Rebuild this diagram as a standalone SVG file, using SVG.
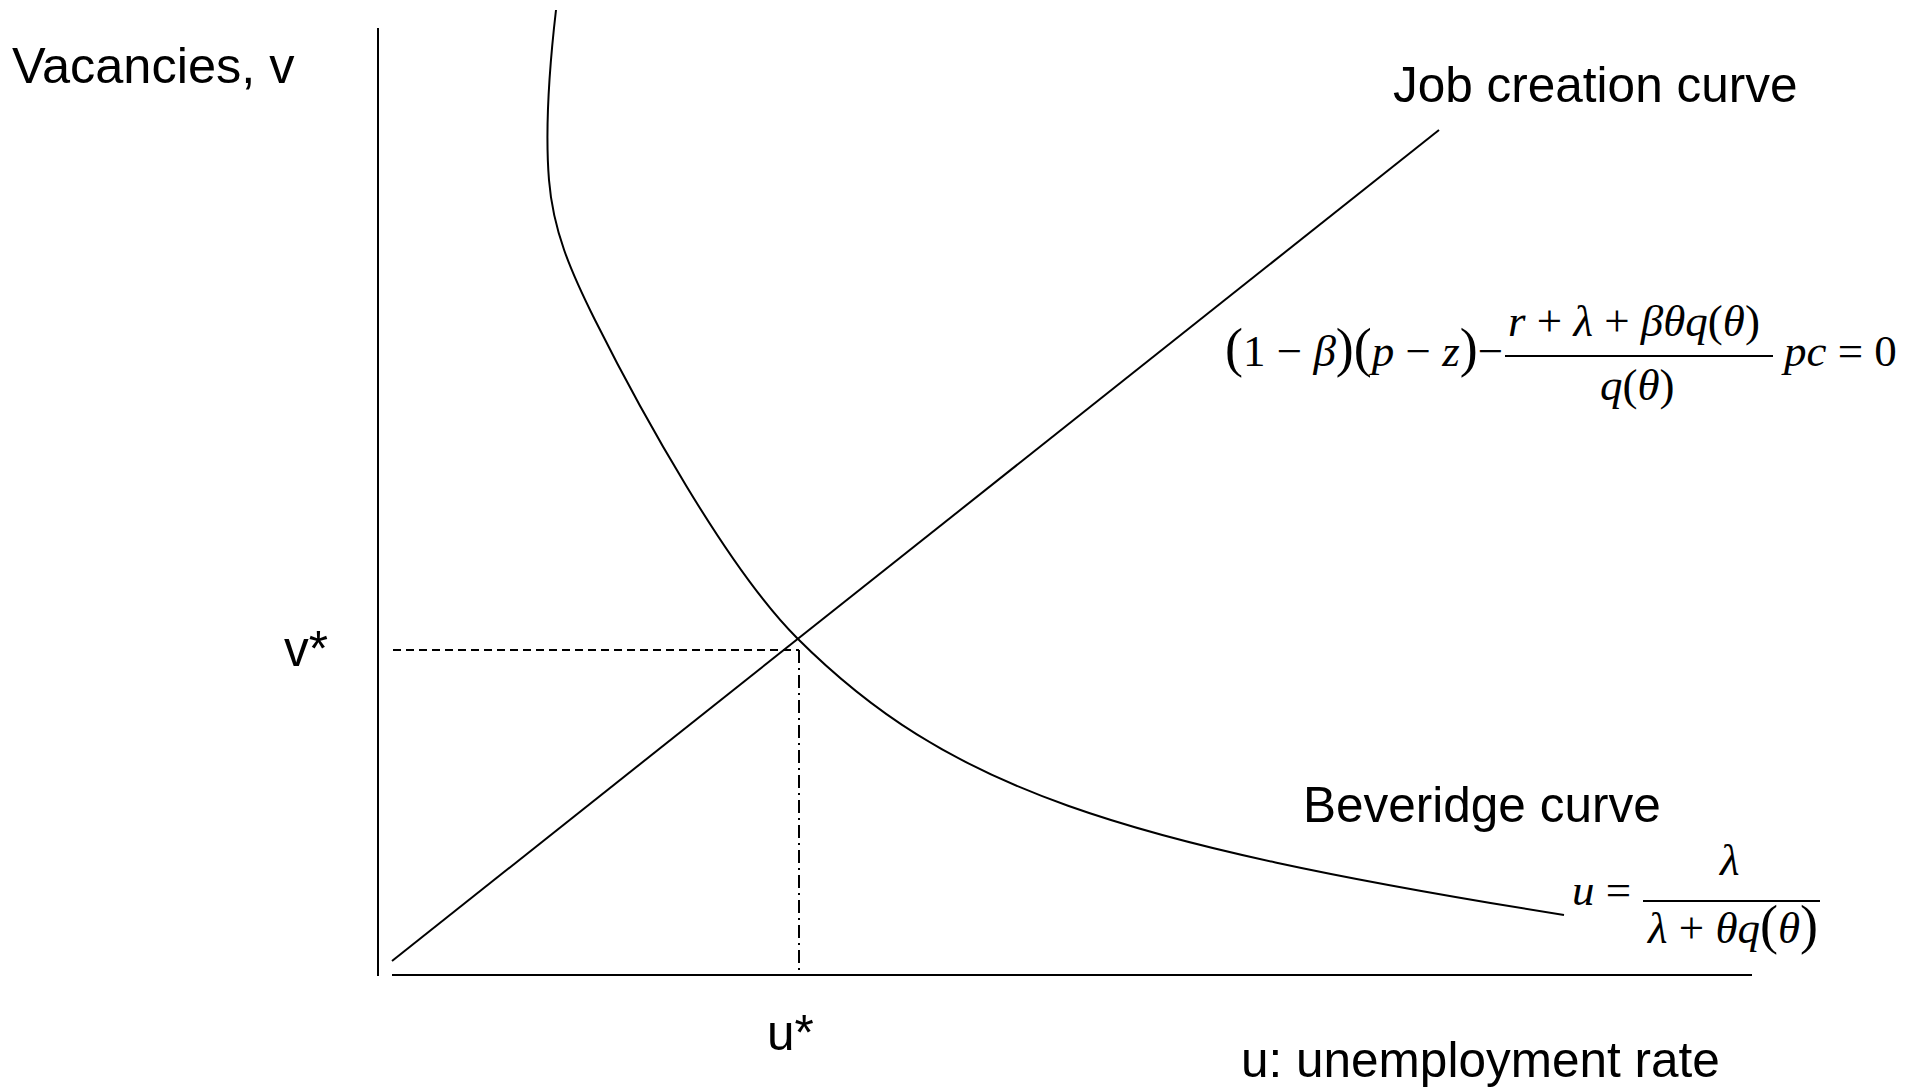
<svg xmlns="http://www.w3.org/2000/svg" width="1908" height="1087" viewBox="0 0 1908 1087">
<style>
.lbl{font-family:"Liberation Sans",Arial,sans-serif;font-size:49.5px;fill:#000}
.m{font-family:"Liberation Serif","Times New Roman",serif;font-size:45px;fill:#000}
.i{font-style:italic}
.bp{font-size:54px}
.ln{fill:none;stroke:#000;stroke-width:2}
</style>
<rect width="1908" height="1087" fill="#fff"/>
<g id="axes">
<line class="ln" x1="378" y1="28" x2="378" y2="976"/>
<line class="ln" x1="392" y1="975" x2="1752" y2="975"/>
</g>
<g id="connectors">
<line id="job-creation" class="ln" x1="392" y1="961" x2="1439" y2="130"/>
<path id="beveridge" class="ln" d="M556,10 C549,70 545,130 549,180 C553,230 570,270 595,320 C640,410 727,568 797,638 C947,788 1114,843 1564,915"/>
<line id="v-guide" class="ln" stroke-width="1.6" stroke-dasharray="8,5" x1="393" y1="650" x2="799" y2="650"/>
<line id="u-guide" class="ln" stroke-width="1.6" stroke-dasharray="13,5,2,5" x1="799" y1="650" x2="799" y2="975"/>
</g>
<g id="labels">
<text class="lbl" x="12" y="83" style="font-size:50.5px">Vacancies, v</text>
<text class="lbl" x="1393" y="102">Job creation curve</text>
<text class="lbl" x="1303" y="822">Beveridge curve</text>
<text class="lbl" x="284" y="666">v*</text>
<text class="lbl" x="767" y="1050">u*</text>
<text class="lbl" x="1241" y="1077">u: unemployment rate</text>
</g>
<g id="job-creation-formula">
<text class="m" x="1225" y="366"><tspan class="bp">(</tspan>1 − <tspan class="i">β</tspan><tspan class="bp">)(</tspan><tspan class="i">p</tspan> − <tspan class="i">z</tspan><tspan class="bp">)</tspan>−</text>
<text class="m" x="1508" y="336"><tspan class="i">r</tspan> + <tspan class="i">λ</tspan> + <tspan class="i">βθq</tspan>(<tspan class="i">θ</tspan>)</text>
<line x1="1505" y1="356" x2="1773" y2="356" stroke="#000" stroke-width="2"/>
<text class="m" x="1600" y="400"><tspan class="i">q</tspan>(<tspan class="i">θ</tspan>)</text>
<text class="m" x="1784" y="366"><tspan class="i">pc</tspan> = 0</text>
</g>
<g id="beveridge-formula">
<text class="m" x="1572" y="905"><tspan class="i">u</tspan> =</text>
<text class="m i" x="1720" y="875">λ</text>
<line x1="1643" y1="901" x2="1820" y2="901" stroke="#000" stroke-width="2"/>
<text class="m" x="1648" y="943"><tspan class="i">λ</tspan> + <tspan class="i">θq</tspan><tspan class="bp">(</tspan><tspan class="i">θ</tspan><tspan class="bp">)</tspan></text>
</g>
</svg>
